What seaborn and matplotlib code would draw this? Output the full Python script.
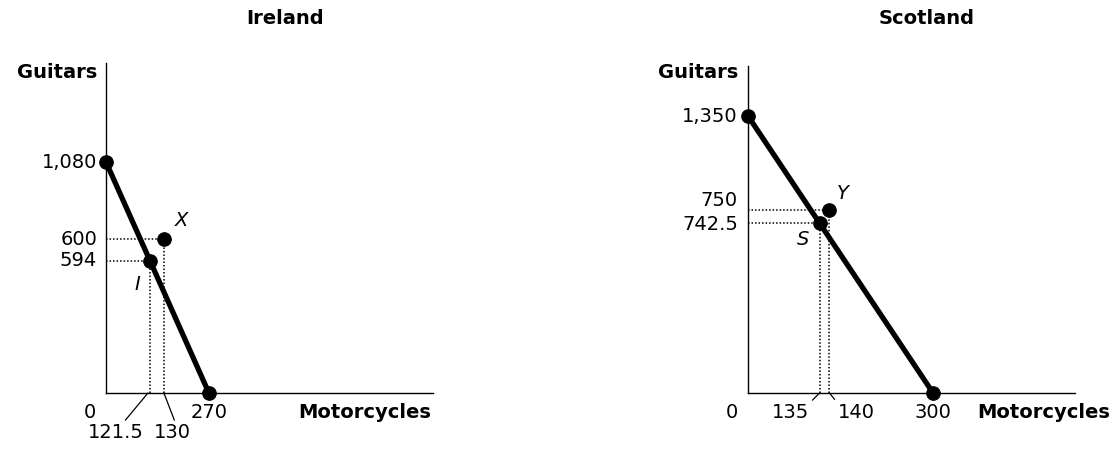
import matplotlib
matplotlib.use("Agg")
import matplotlib.pyplot as plt
import seaborn as sns

# production possibility data (positions as drawn, labels as printed)
ireland_ppf_x = [0, 270]
ireland_ppf_y = [1080, 0]
ireland_pts_x = [115, 152]      # I, X
ireland_pts_y = [619, 720]
ireland_pt_names = ["I", "X"]
ireland_ylabels = ["1,080", "594", "600"]
ireland_xlabels = ["121.5", "130"]

scotland_ppf_x = [0, 300]
scotland_ppf_y = [1350, 0]
scotland_pts_x = [116, 132]     # S, Y
scotland_pts_y = [829, 892]
scotland_pt_names = ["S", "Y"]
scotland_ylabels = ["1,350", "742.5", "750"]
scotland_xlabels = ["135", "140"]

sns.set_style("white")
plt.rcParams["font.family"] = ["DejaVu Sans"]
plt.rcParams["text.color"] = "black"

W, H = 1113, 451
fig = plt.figure(figsize=(W / 100, H / 100), dpi=100)

ax1 = fig.add_axes([106 / W, (H - 393) / H, 327 / W, 330 / H])
ax2 = fig.add_axes([748 / W, (H - 393) / H, 327 / W, 327 / H])
ax1.set_xlim(0, 858)
ax1.set_ylim(0, 1543)
ax2.set_xlim(0, 530)
ax2.set_ylim(0, 1594)

FS = 14
pt = 0.72  # px -> points


def draw_panel(ax, ppf_x, ppf_y, pts_x, pts_y):
    for px, py in zip(pts_x, pts_y):
        ax.plot([0, px], [py, py], color="black", lw=1.1, ls=(0, (1, 1.3)), clip_on=False)
        ax.plot([px, px], [0, py], color="black", lw=1.1, ls=(0, (1, 1.3)), clip_on=False)
    sns.lineplot(x=ppf_x, y=ppf_y, ax=ax, color="black", lw=3.8, clip_on=False, zorder=3)
    sns.scatterplot(x=list(ppf_x) + list(pts_x), y=list(ppf_y) + list(pts_y), ax=ax,
                    color="black", edgecolor="black", s=95, clip_on=False, zorder=4)
    ax.set_xticks([])
    ax.set_yticks([])
    ax.set_xlabel("")
    ax.set_ylabel("")
    sns.despine(ax=ax)
    for side in ["left", "bottom"]:
        ax.spines[side].set_color("black")
        ax.spines[side].set_linewidth(1.0)


draw_panel(ax1, ireland_ppf_x, ireland_ppf_y, ireland_pts_x, ireland_pts_y)
draw_panel(ax2, scotland_ppf_x, scotland_ppf_y, scotland_pts_x, scotland_pts_y)


def lab(ax, s, xy, dx, dy, ha="center", **kw):
    ax.annotate(s, xy=xy, xytext=(dx * pt, dy * pt), textcoords="offset points",
                ha=ha, va="center", fontsize=FS, color="black", annotation_clip=False, **kw)


# Ireland labels
lab(ax1, ireland_ylabels[0], (0, ireland_ppf_y[0]), -9, 0, ha="right")
lab(ax1, ireland_ylabels[1], (0, ireland_pts_y[0]), -9, 0, ha="right")
lab(ax1, ireland_ylabels[2], (0, ireland_pts_y[1]), -9, 0, ha="right")
lab(ax1, "0", (0, 0), -16, -19)
lab(ax1, str(ireland_ppf_x[1]), (ireland_ppf_x[1], 0), 0, -19)
arrow = dict(arrowstyle="-", color="black", lw=0.9, shrinkA=0, shrinkB=0)
lab(ax1, ireland_xlabels[0], (ireland_pts_x[0] - 5, 0), -32, -40,
    arrowprops=dict(arrow, relpos=(0.62, 1.0)))
lab(ax1, ireland_xlabels[1], (ireland_pts_x[1], 0), 8, -40,
    arrowprops=dict(arrow, relpos=(0.6, 1.0)))
lab(ax1, ireland_pt_names[0], (ireland_pts_x[0], ireland_pts_y[0]), -12, -24, style="italic")
lab(ax1, ireland_pt_names[1], (ireland_pts_x[1], ireland_pts_y[1]), 18, 19, style="italic")

# Scotland labels
lab(ax2, scotland_ylabels[0], (0, scotland_ppf_y[0]), -10, 0, ha="right")
lab(ax2, scotland_ylabels[1], (0, scotland_pts_y[0]), -10, -2, ha="right")
lab(ax2, scotland_ylabels[2], (0, scotland_pts_y[1]), -10, 10, ha="right")
lab(ax2, "0", (0, 0), -16, -19)
lab(ax2, str(scotland_ppf_x[1]), (scotland_ppf_x[1], 0), 0, -19)
lab(ax2, scotland_xlabels[0], (scotland_pts_x[0], 0), -29, -19,
    arrowprops=dict(arrow, relpos=(1.0, 0.95)))
lab(ax2, scotland_xlabels[1], (scotland_pts_x[1], 0), 27, -19,
    arrowprops=dict(arrow, relpos=(0.0, 0.95)))
lab(ax2, scotland_pt_names[0], (scotland_pts_x[0], scotland_pts_y[0]), -16, -17, style="italic")
lab(ax2, scotland_pt_names[1], (scotland_pts_x[1], scotland_pts_y[1]), 13, 17, style="italic")


# titles and axis names
def ftext(x, y, s, ha):
    fig.text(x / W, 1 - y / H, s, ha=ha, va="center", fontsize=FS,
             fontweight="bold", color="black")


ftext(285, 18, "Ireland", "center")
ftext(927, 18, "Scotland", "center")
ftext(97, 72, "Guitars", "right")
ftext(738, 72, "Guitars", "right")
ftext(431, 413, "Motorcycles", "right")
ftext(1110, 413, "Motorcycles", "right")

fig.savefig("out.png", dpi=100)
